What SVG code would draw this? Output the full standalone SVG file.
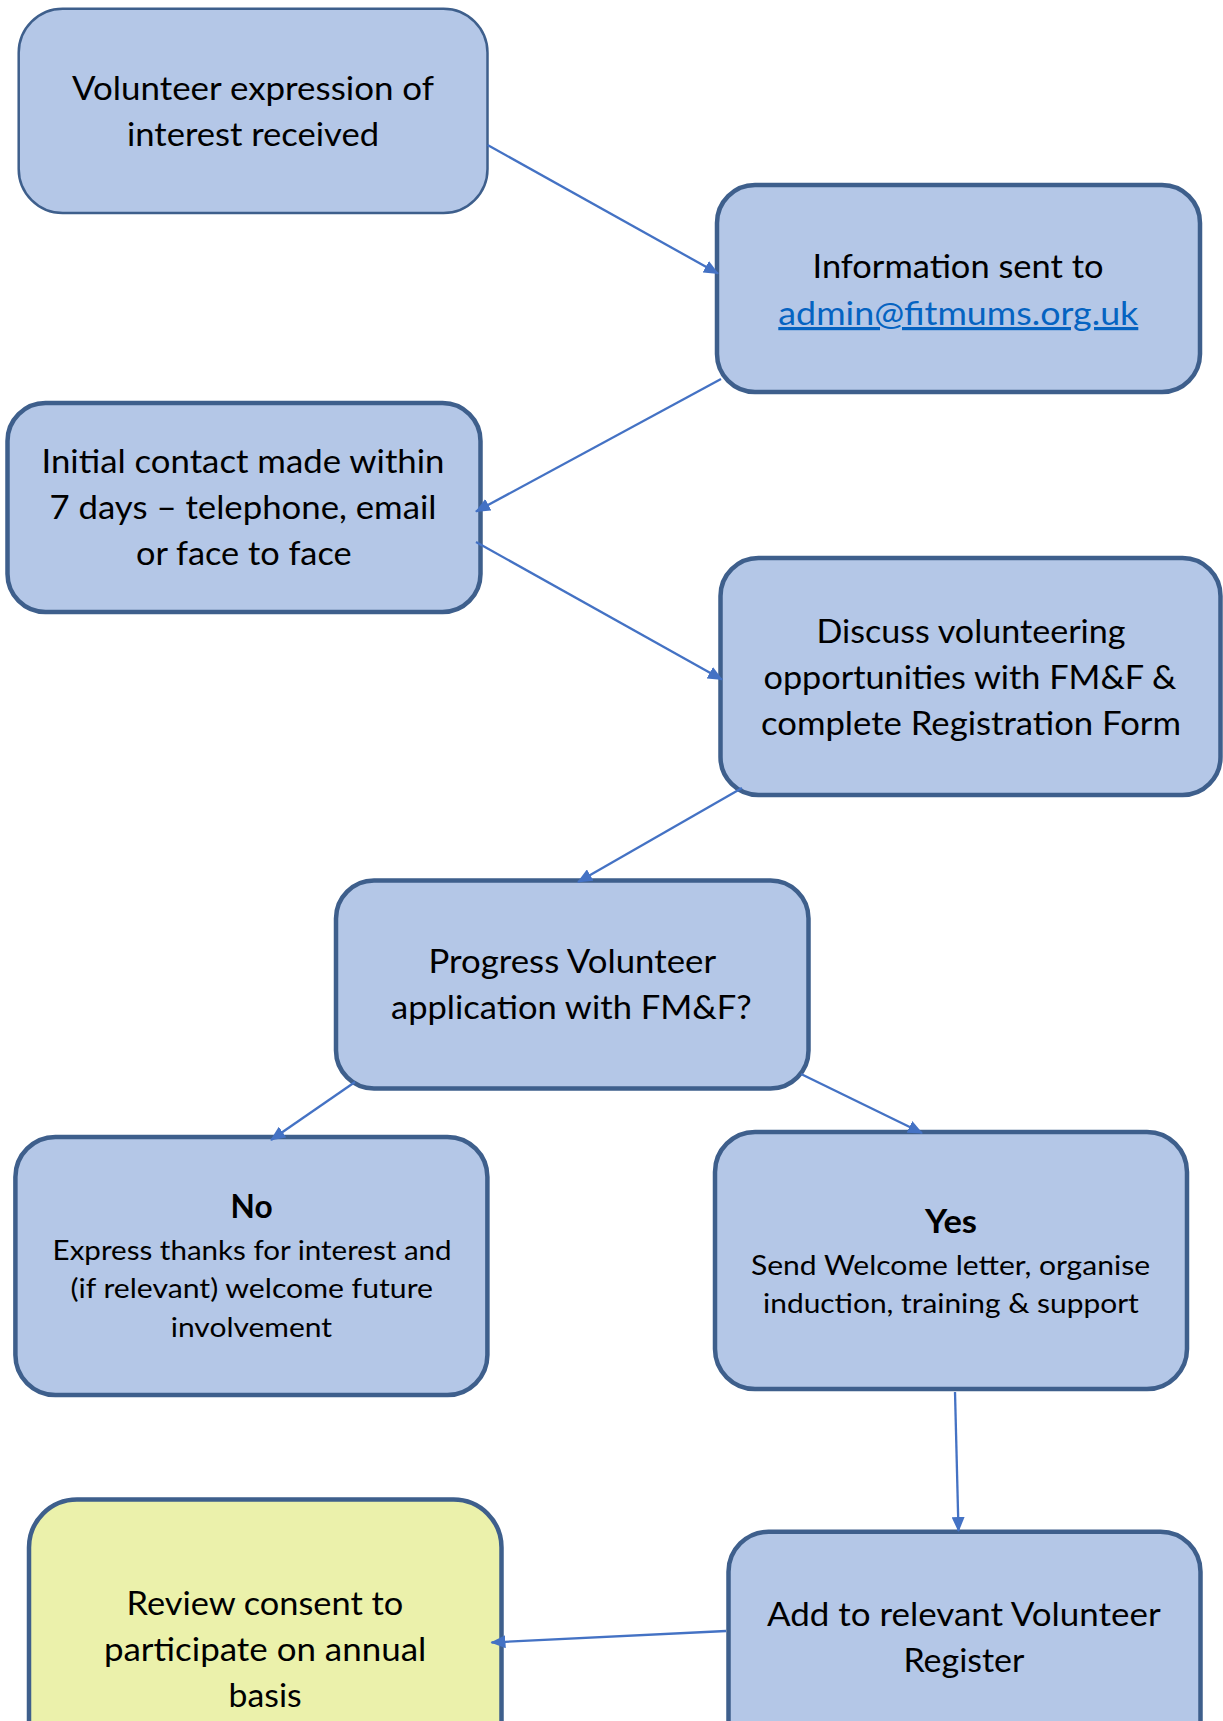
<svg xmlns="http://www.w3.org/2000/svg" width="1223" height="1721" viewBox="0 0 1223 1721">
<defs>
<style>
.box{fill:#B4C7E7;stroke:#3E5F8C;stroke-width:4.5}
.thin{stroke-width:2.5}
.yellow{fill:#EBF1AB}
.t{font-family:Lato,"Liberation Sans",sans-serif;font-size:32px;fill:#000;text-anchor:middle}
.s{font-size:26px}
.b{font-weight:bold}
.link{fill:#0563C1;text-decoration:underline}
.conn line{stroke:#4472C4;stroke-width:2.3;marker-end:url(#arr)}
</style>
<marker id="arr" viewBox="0 0 15 13" refX="14" refY="6.5" markerWidth="15" markerHeight="13" markerUnits="userSpaceOnUse" orient="auto"><path d="M0,0 L15,6.5 L0,13 z" fill="#4472C4"/></marker>
</defs>
<rect width="1223" height="1721" fill="#fff"/>
<g id="n1">
<rect class="box thin" x="18.7" y="8.8" width="468.8" height="204.2" rx="44"/>
<text class="t" x="253" y="100" textLength="362" lengthAdjust="spacingAndGlyphs">Volunteer expression of</text>
<text class="t" x="253" y="146" textLength="252" lengthAdjust="spacingAndGlyphs">interest received</text>
</g>
<g id="n2">
<rect class="box" x="717" y="185" width="483" height="207" rx="38"/>
<text class="t" x="958" y="278" textLength="291" lengthAdjust="spacingAndGlyphs">Information sent to</text>
<text class="t link" x="958.3" y="325" textLength="360" lengthAdjust="spacingAndGlyphs">admin@fitmums.org.uk</text>
</g>
<g id="n3">
<rect class="box" x="7.5" y="403" width="473" height="209" rx="38"/>
<text class="t" x="243" y="473" textLength="403" lengthAdjust="spacingAndGlyphs">Initial contact made within</text>
<text class="t" x="243" y="519" textLength="387" lengthAdjust="spacingAndGlyphs">7 days – telephone, email</text>
<text class="t" x="243.8" y="565" textLength="215.6" lengthAdjust="spacingAndGlyphs">or face to face</text>
</g>
<g id="n4">
<rect class="box" x="720.5" y="558" width="500" height="237" rx="38"/>
<text class="t" x="971" y="642.5" textLength="309" lengthAdjust="spacingAndGlyphs">Discuss volunteering</text>
<text class="t" x="970" y="688.5" textLength="413" lengthAdjust="spacingAndGlyphs">opportunities with FM&amp;F &amp;</text>
<text class="t" x="971" y="734.5" textLength="420" lengthAdjust="spacingAndGlyphs">complete Registration Form</text>
</g>
<g id="n5">
<rect class="box" x="336" y="880.5" width="472.5" height="208" rx="38"/>
<text class="t" x="572.3" y="973" textLength="287.5" lengthAdjust="spacingAndGlyphs">Progress Volunteer</text>
<text class="t" x="571.4" y="1019" textLength="360.8" lengthAdjust="spacingAndGlyphs">application with FM&amp;F?</text>
</g>
<g id="n6">
<rect class="box" x="15.4" y="1137" width="472" height="258" rx="40"/>
<text class="t b" x="251.6" y="1218" textLength="42" lengthAdjust="spacingAndGlyphs">No</text>
<text class="t s" x="252.1" y="1260" textLength="399" lengthAdjust="spacingAndGlyphs">Express thanks for interest and</text>
<text class="t s" x="251.7" y="1298" textLength="362.6" lengthAdjust="spacingAndGlyphs">(if relevant) welcome future</text>
<text class="t s" x="251.4" y="1337" textLength="161.3" lengthAdjust="spacingAndGlyphs">involvement</text>
</g>
<g id="n7">
<rect class="box" x="715" y="1132" width="472" height="257" rx="40"/>
<text class="t b" x="951" y="1233" textLength="52" lengthAdjust="spacingAndGlyphs">Yes</text>
<text class="t s" x="950.5" y="1275" textLength="399" lengthAdjust="spacingAndGlyphs">Send Welcome letter, organise</text>
<text class="t s" x="950.9" y="1313" textLength="375.7" lengthAdjust="spacingAndGlyphs">induction, training &amp; support</text>
</g>
<g id="n8">
<rect class="box yellow" x="29" y="1499.5" width="472.5" height="280" rx="48"/>
<text class="t" x="264.9" y="1615" textLength="276.8" lengthAdjust="spacingAndGlyphs">Review consent to</text>
<text class="t" x="265.1" y="1661" textLength="322.3" lengthAdjust="spacingAndGlyphs">participate on annual</text>
<text class="t" x="265.1" y="1707" textLength="73" lengthAdjust="spacingAndGlyphs">basis</text>
</g>
<g id="n9">
<rect class="box" x="728.5" y="1531.7" width="472" height="240" rx="40"/>
<text class="t" x="963.8" y="1626" textLength="393.6" lengthAdjust="spacingAndGlyphs">Add to relevant Volunteer</text>
<text class="t" x="963.9" y="1672" textLength="121" lengthAdjust="spacingAndGlyphs">Register</text>
</g>
<g id="connectors" class="conn">
<line x1="487.6" y1="145" x2="718" y2="273.5"/>
<line x1="721" y1="379" x2="476" y2="511.5"/>
<line x1="476" y1="542" x2="722" y2="679.5"/>
<line x1="742" y1="788" x2="578" y2="882"/>
<line x1="355" y1="1082" x2="271" y2="1140"/>
<line x1="801" y1="1074" x2="922" y2="1133"/>
<line x1="955" y1="1392" x2="958.5" y2="1531"/>
<line x1="726" y1="1631" x2="491.5" y2="1642.5"/>
</g>
</svg>
